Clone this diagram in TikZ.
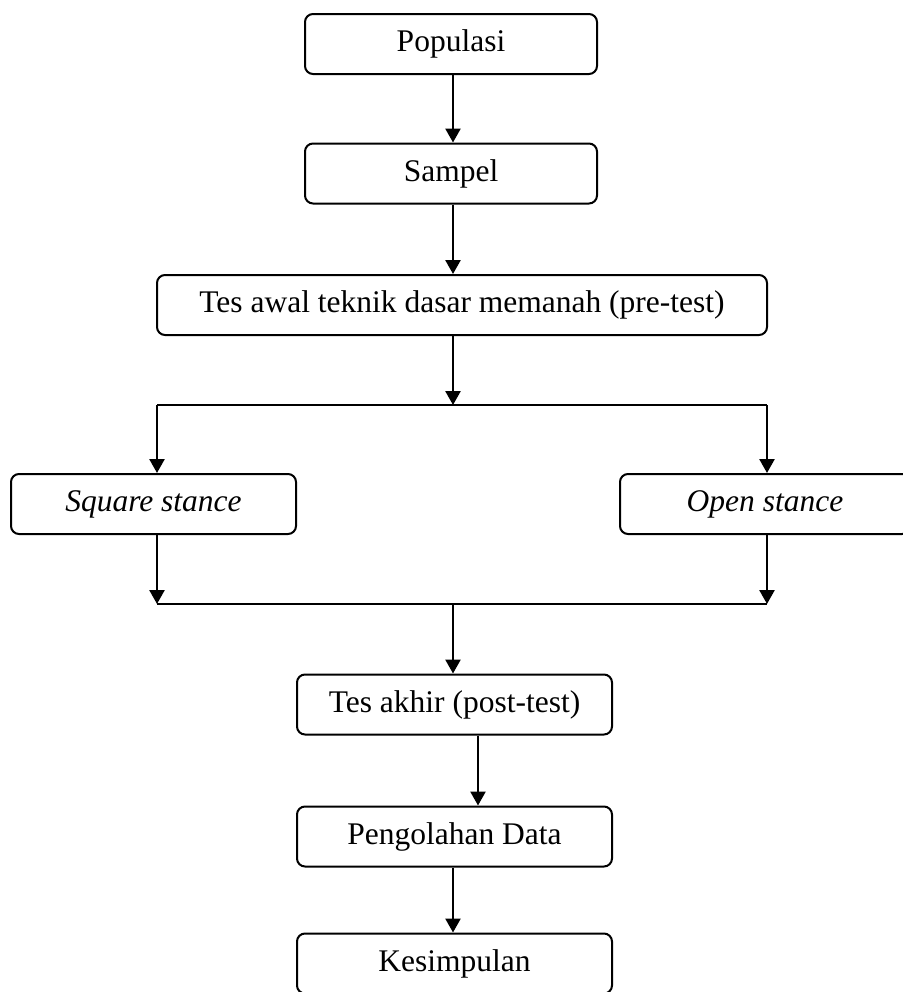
\documentclass[tikz,border=0pt]{standalone}
\usepackage{fontspec}
\setmainfont{Liberation Serif}
\usetikzlibrary{arrows.meta}

\tikzset{
  box/.style={draw, line width=1pt, rounded corners=4pt, inner sep=0pt,
    minimum height=30pt, font=\fontsize{15.75}{19}\selectfont},
  arr/.style={line width=1.3pt, -{Triangle[width=7.5pt,length=7pt]}},
  ln/.style={line width=1.3pt}
}

\begin{document}
\begin{tikzpicture}[x=0.5pt,y=-0.5pt]
\useasboundingbox (0,0) rectangle (902,992);
% steps
\node[box, minimum width=146pt] (pop) at (451,44) {Populasi};
\node[box, minimum width=146pt] (sam) at (451,173.5) {Sampel};
\node[box, minimum width=305pt] (pre) at (462,305) {Tes awal teknik dasar memanah (pre-test)};
\node[box, minimum width=142.5pt] (sq) at (153.5,504) {\textit{Square stance}};
\node[box, minimum width=145pt] (op) at (765,504) {\textit{Open stance}};
\node[box, minimum width=157.5pt] (post) at (454.5,704.5) {Tes akhir (post-test)};
\node[box, minimum width=157.5pt] (data) at (454.5,836.5) {Pengolahan Data};
\node[box, minimum width=157.5pt] (kes) at (454.5,963.5) {Kesimpulan};
% branch points
\coordinate (mid) at (453,0);
\coordinate (sl) at (157,405);
\coordinate (sr) at (767,405);
\coordinate (ml) at (157,604);
\coordinate (mr) at (767,604);
\coordinate (pd) at (478,0);
% connectors
\draw[arr] (mid |- pop.south) -- (mid |- sam.north);
\draw[arr] (mid |- sam.south) -- (mid |- pre.north);
\draw[arr] (mid |- pre.south) -- (mid |- sl);
\draw[ln] (sl) -- (sr);
\draw[arr] (sl) -- (sl |- sq.north);
\draw[arr] (sr) -- (sr |- op.north);
\draw[arr] (sl |- sq.south) -- (ml);
\draw[arr] (sr |- op.south) -- (mr);
\draw[ln] (ml) -- (mr);
\draw[arr] (mid |- ml) -- (mid |- post.north);
\draw[arr] (pd |- post.south) -- (pd |- data.north);
\draw[arr] (mid |- data.south) -- (mid |- kes.north);
\end{tikzpicture}
\end{document}
